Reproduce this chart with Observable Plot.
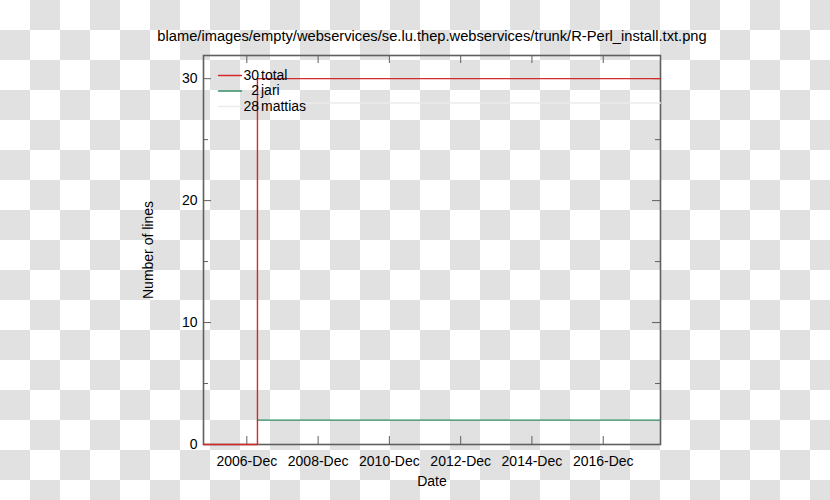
<!DOCTYPE html>
<html>
<head>
<meta charset="utf-8">
<script src="https://cdn.jsdelivr.net/npm/d3@7"></script>
<script src="https://cdn.jsdelivr.net/npm/@observablehq/plot@0.6"></script>
<style>
  html, body { margin: 0; padding: 0; }
  body {
    width: 830px; height: 500px; overflow: hidden;
    background-color: #ffffff;
    background-image: conic-gradient(#e1e1e1 25%, transparent 0 50%, #e1e1e1 0 75%, transparent 0);
    background-size: 60px 60px;
  }
  #chart svg { display: block; }
</style>
</head>
<body>
<div id="chart"></div>
<script>
// ---- data ----
const chartTitle = "blame/images/empty/webservices/se.lu.thep.webservices/trunk/R-Perl_install.txt.png";
const xLabel = "Date";
const yLabel = "Number of lines";

const xDomain = ["2005-09-13", "2018-07-11"];
const yDomain = [0, 31.9];

const xTickDates = ["2006-12-01", "2008-12-01", "2010-12-01", "2012-12-01", "2014-12-01", "2016-12-01"];
const xTickLabels = ["2006-Dec", "2008-Dec", "2010-Dec", "2012-Dec", "2014-Dec", "2016-Dec"];
const yTicks = [0, 10, 20, 30];
const yMinorTicks = [5, 15, 25];

const series = ["total", "jari", "mattias"];
const seriesFinal = [30, 2, 28];
const seriesColors = ["#d42a2a", "#2e8b62", "#ececec"];

const totalDates = ["2005-09-13", "2007-03-20", "2018-07-11"];
const totalValues = [0, 30, 30];
const jariDates = ["2007-03-20", "2018-07-11"];
const jariValues = [2, 2];
const mattiasDates = ["2007-03-20", "2018-07-11"];
const mattiasValues = [28, 28];

// ---- build ----
const W = 830, H = 500;
const mL = 203, mR = 170, mT = 55, mB = 56;
const pw = W - mL - mR, ph = H - mT - mB;
const axisColor = "#5f5f5f";
const font = "'Liberation Sans', Arial, sans-serif";

const toRows = (dates, vals) => dates.map((d, i) => ({date: new Date(d), value: vals[i]}));
const lineData = [toRows(totalDates, totalValues), toRows(jariDates, jariValues), toRows(mattiasDates, mattiasValues)];
const xTicks = xTickDates.map(d => new Date(d));
const labelOf = new Map(xTicks.map((d, i) => [+d, xTickLabels[i]]));

const lineShape = {draw(context, l) { context.moveTo(0, 0); context.lineTo(0, -l); }};

const legendMarks = series.flatMap((s, i) => {
  const dy = 20 + i * 15.5;
  return [
    Plot.vector([s], {frameAnchor: "top-left", dx: 15, dy, rotate: 90, length: 23, anchor: "start",
      shape: lineShape, stroke: seriesColors[i], strokeWidth: 1.4}),
    Plot.text([seriesFinal[i]], {frameAnchor: "top-left", dx: 55.5, dy, text: d => String(d),
      textAnchor: "end", lineAnchor: "middle", fontSize: 14, fill: "#000"}),
    Plot.text([s], {frameAnchor: "top-left", dx: 57.5, dy, text: d => d,
      textAnchor: "start", lineAnchor: "middle", fontSize: 14, fill: "#000"})
  ];
});

const chart = Plot.plot({
  width: W, height: H,
  marginLeft: mL, marginRight: mR, marginTop: mT, marginBottom: mB,
  style: {background: "transparent", fontFamily: font, fontSize: "14px", color: "#000"},
  x: {type: "utc", domain: xDomain.map(d => new Date(d))},
  y: {domain: yDomain},
  marks: [
    Plot.frame({stroke: axisColor, strokeWidth: 1.6}),
    // inward major ticks
    Plot.tickX(xTicks, {x: d => d, insetTop: ph - 8, stroke: axisColor, strokeWidth: 1}),
    Plot.tickX(xTicks, {x: d => d, insetBottom: ph - 8, stroke: axisColor, strokeWidth: 1}),
    Plot.tickY(yTicks, {y: d => d, insetRight: pw - 8, stroke: axisColor, strokeWidth: 1}),
    Plot.tickY(yTicks, {y: d => d, insetLeft: pw - 8, stroke: axisColor, strokeWidth: 1}),
    Plot.tickY(yMinorTicks, {y: d => d, insetRight: pw - 5, stroke: axisColor, strokeWidth: 1}),
    Plot.tickY(yMinorTicks, {y: d => d, insetLeft: pw - 5, stroke: axisColor, strokeWidth: 1}),
    Plot.axisX(xTicks, {tickSize: 0, tickPadding: 12, tickFormat: d => labelOf.get(+d), fontSize: 14, label: null}),
    Plot.axisY(yTicks, {tickSize: 0, tickPadding: 6, fontSize: 14, label: null}),
    // series lines
    ...lineData.map((rows, i) => Plot.line(rows, {x: "date", y: "value", curve: "step-after",
      stroke: seriesColors[i], strokeWidth: 1.4})).reverse(),
    ...legendMarks,
    // titles
    Plot.text([chartTitle], {frameAnchor: "top", dy: -19.6, lineAnchor: "middle", textAnchor: "middle",
      text: d => d, fontSize: 14.7, fill: "#000"}),
    Plot.text([xLabel], {frameAnchor: "bottom", dy: 37, lineAnchor: "middle", textAnchor: "middle",
      text: d => d, fontSize: 14, fill: "#000"}),
    Plot.text([yLabel], {frameAnchor: "left", dx: -54.7, rotate: -90, lineAnchor: "middle", textAnchor: "middle",
      text: d => d, fontSize: 14, fill: "#000"})
  ]
});
document.getElementById("chart").appendChild(chart);
</script>
</body>
</html>
